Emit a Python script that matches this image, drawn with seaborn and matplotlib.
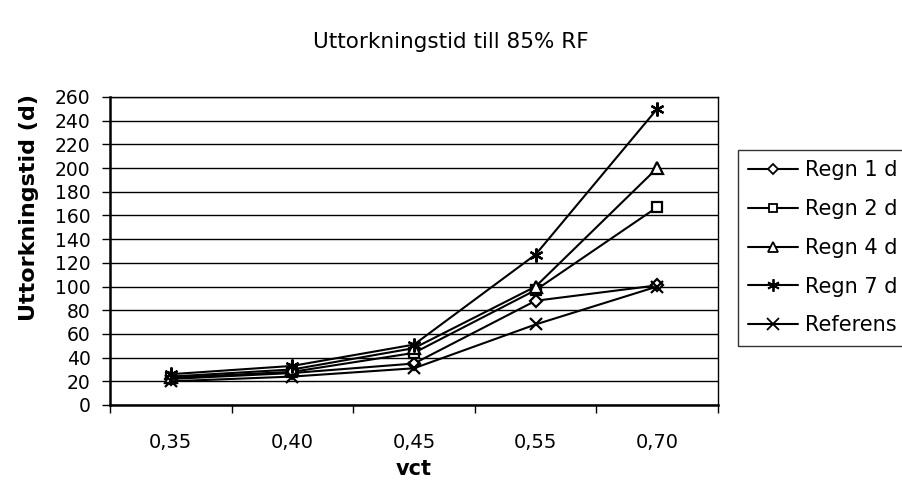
import matplotlib
matplotlib.use("Agg")
import matplotlib.pyplot as plt
from matplotlib.lines import Line2D
import seaborn as sns
import pandas as pd

# Drying time to 85% RH per w/c ratio
vct = ["0,35", "0,40", "0,45", "0,55", "0,70"]
regn_1d = [22, 27, 35, 88, 101]
regn_2d = [23, 28, 44, 97, 167]
regn_4d = [24, 30, 48, 100, 200]
regn_7d = [26, 33, 51, 127, 250]
referens = [20, 24, 31, 68, 100]

series_names = ["Regn 1 d", "Regn 2 d", "Regn 4 d", "Regn 7 d", "Referens"]
series_values = [regn_1d, regn_2d, regn_4d, regn_7d, referens]
marker_list = ["D", "s", "^", (6, 2, 0), "x"]
marker_sizes = [6, 7, 8, 10, 9]

rows = []
for name, vals in zip(series_names, series_values):
    for v, d in zip(vct, vals):
        rows.append({"vct": v, "dagar": d, "serie": name})
df = pd.DataFrame(rows)

sns.set_style("white", {"text.color": "black", "axes.labelcolor": "black",
                        "xtick.color": "black", "ytick.color": "black"})
plt.rcParams["font.family"] = ["DejaVu Sans"]

fig = plt.figure(figsize=(9.02, 4.96), dpi=100)
ax = fig.add_axes([110 / 902, 1 - 405 / 496, 608 / 902, 308 / 496])

sns.pointplot(data=df, x="vct", y="dagar", hue="serie", order=vct,
              hue_order=series_names, palette=["black"] * 5,
              markers=marker_list, linestyles="-", errorbar=None,
              dodge=False, ax=ax, legend=False)

for line, ms in zip(ax.lines, marker_sizes):
    line.set_linewidth(1.5)
    line.set_markersize(ms)
    line.set_markerfacecolor("white")
    line.set_markeredgecolor("black")
    line.set_markeredgewidth(1.6)
    line.set_color("black")

ax.set_ylim(0, 260)
ax.set_xlim(-0.5, len(vct) - 0.5)
ax.set_yticks(range(0, 261, 20))
ax.yaxis.grid(True, color="black", linewidth=1)
ax.set_axisbelow(True)

# ticks between categories on x
ax.set_xticks([i - 0.5 for i in range(len(vct) + 1)], minor=True)
ax.tick_params(axis="x", which="major", length=0, labelsize=14, pad=20,
               labelcolor="black")
ax.tick_params(axis="x", which="minor", length=6, width=1, direction="out",
               color="black", bottom=True)
ax.tick_params(axis="y", length=6, width=1, direction="out", color="black",
               left=True, labelsize=13.5, pad=8, labelcolor="black")

for side in ["left", "right", "top", "bottom"]:
    ax.spines[side].set_visible(True)
    ax.spines[side].set_color("black")
    ax.spines[side].set_linewidth(1)
ax.spines["left"].set_linewidth(1.8)
ax.spines["bottom"].set_linewidth(1.8)

ax.set_xlabel("vct", fontsize=15, fontweight="bold", labelpad=5, color="black")
ax.set_ylabel("Uttorkningstid (d)", fontsize=16, fontweight="bold", color="black")
ax.yaxis.set_label_coords(-0.117, 0.64)

fig.suptitle("Uttorkningstid till 85% RF", x=0.5, y=1 - 42 / 496, va="center",
             fontsize=15.5, color="black")

handles = [Line2D([0], [0], color="black", linewidth=1.5, marker=m,
                  markersize=ms - 1, markerfacecolor="white",
                  markeredgecolor="black", markeredgewidth=1.3)
           for m, ms in zip(marker_list, marker_sizes)]
leg = fig.legend(handles, series_names, loc="upper left",
                 bbox_to_anchor=(738 / 902, 1 - 150 / 496), fontsize=15,
                 frameon=True, fancybox=False, edgecolor="black",
                 handlelength=2.4, handletextpad=0.3, labelspacing=0.9,
                 borderpad=0.5, borderaxespad=0)
leg.get_frame().set_linewidth(1)
for t in leg.get_texts():
    t.set_color("black")

fig.savefig("out.png", dpi=100)
